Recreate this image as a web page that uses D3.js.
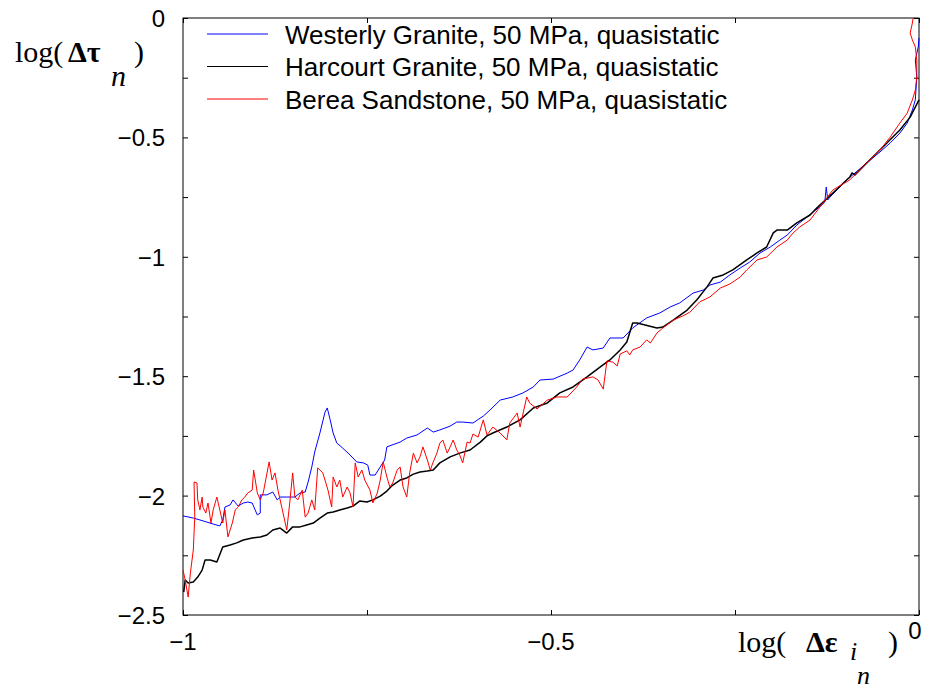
<!DOCTYPE html>
<html>
<head>
<meta charset="utf-8">
<script src="https://cdn.jsdelivr.net/npm/d3@7/dist/d3.min.js"></script>
<style>
  html, body { margin: 0; padding: 0; background: #fff; }
  svg { display: block; }
</style>
</head>
<body>
<div id="chart"></div>
<script>
// log(strain increment) vs log(stress increment)
const westerly = [
  [-1.000,-2.085],[-0.986,-2.094],[-0.977,-2.102],[-0.959,-2.119],[-0.950,-2.127],[-0.946,-2.102],[-0.943,-2.048],
  [-0.936,-2.039],[-0.932,-2.018],[-0.925,-2.044],[-0.918,-2.031],[-0.912,-2.027],[-0.906,-2.031],[-0.902,-2.060],
  [-0.899,-2.081],[-0.895,-2.073],[-0.895,-1.997],[-0.886,-1.997],[-0.878,-1.985],[-0.872,-2.018],[-0.868,-2.006],
  [-0.859,-2.006],[-0.848,-2.006],[-0.841,-1.989],[-0.834,-1.985],[-0.830,-1.943],[-0.825,-1.880],[-0.821,-1.817],
  [-0.814,-1.738],[-0.807,-1.650],[-0.804,-1.633],[-0.800,-1.683],[-0.796,-1.738],[-0.791,-1.780],[-0.783,-1.801],
  [-0.773,-1.830],[-0.764,-1.859],[-0.755,-1.863],[-0.749,-1.872],[-0.746,-1.914],[-0.739,-1.914],[-0.732,-1.880],
  [-0.726,-1.851],[-0.723,-1.796],[-0.716,-1.788],[-0.705,-1.776],[-0.696,-1.759],[-0.682,-1.746],[-0.668,-1.717],
  [-0.660,-1.734],[-0.651,-1.725],[-0.637,-1.709],[-0.628,-1.692],[-0.620,-1.692],[-0.606,-1.696],[-0.592,-1.667],
  [-0.583,-1.642],[-0.569,-1.600],[-0.552,-1.587],[-0.538,-1.570],[-0.524,-1.545],[-0.515,-1.516],[-0.497,-1.512],
  [-0.478,-1.487],[-0.470,-1.474],[-0.461,-1.432],[-0.451,-1.378],[-0.443,-1.390],[-0.429,-1.382],[-0.420,-1.340],
  [-0.402,-1.340],[-0.389,-1.298],[-0.370,-1.256],[-0.352,-1.235],[-0.338,-1.210],[-0.325,-1.193],[-0.307,-1.152],
  [-0.293,-1.139],[-0.284,-1.118],[-0.270,-1.106],[-0.257,-1.076],[-0.243,-1.047],[-0.230,-1.022],[-0.216,-0.984],
  [-0.202,-0.959],[-0.189,-0.930],[-0.179,-0.909],[-0.166,-0.867],[-0.152,-0.833],[-0.135,-0.791],[-0.128,-0.771],
  [-0.126,-0.708],[-0.124,-0.762],[-0.121,-0.750],[-0.098,-0.678],[-0.071,-0.607],[-0.053,-0.561],[-0.039,-0.523],
  [-0.026,-0.482],[-0.016,-0.440],[-0.009,-0.385],[-0.005,-0.343],[-0.003,-0.247],[-0.005,-0.176],[-0.001,-0.121],
  [0.000,-0.084]
]

const harcourt = [
  [-0.999,-2.404],[-0.997,-2.353],[-0.993,-2.366],[-0.986,-2.362],[-0.980,-2.341],[-0.974,-2.312],[-0.970,-2.270],
  [-0.963,-2.270],[-0.954,-2.278],[-0.946,-2.215],[-0.936,-2.207],[-0.927,-2.198],[-0.918,-2.186],[-0.906,-2.178],
  [-0.895,-2.173],[-0.886,-2.165],[-0.878,-2.144],[-0.868,-2.136],[-0.859,-2.157],[-0.851,-2.131],[-0.841,-2.131],
  [-0.832,-2.123],[-0.823,-2.115],[-0.814,-2.094],[-0.804,-2.073],[-0.796,-2.069],[-0.787,-2.060],[-0.777,-2.052],
  [-0.769,-2.044],[-0.760,-2.023],[-0.750,-2.027],[-0.742,-2.018],[-0.732,-2.002],[-0.723,-1.981],[-0.715,-1.956],
  [-0.705,-1.935],[-0.696,-1.926],[-0.687,-1.910],[-0.678,-1.901],[-0.668,-1.897],[-0.660,-1.893],[-0.651,-1.863],
  [-0.637,-1.838],[-0.624,-1.822],[-0.610,-1.809],[-0.596,-1.776],[-0.587,-1.750],[-0.579,-1.738],[-0.560,-1.713],
  [-0.542,-1.683],[-0.524,-1.633],[-0.505,-1.612],[-0.488,-1.570],[-0.470,-1.545],[-0.451,-1.503],[-0.433,-1.461],
  [-0.420,-1.432],[-0.406,-1.390],[-0.397,-1.357],[-0.389,-1.277],[-0.383,-1.277],[-0.356,-1.298],[-0.348,-1.294],
  [-0.334,-1.265],[-0.315,-1.223],[-0.302,-1.181],[-0.288,-1.126],[-0.280,-1.089],[-0.266,-1.076],[-0.253,-1.055],
  [-0.234,-1.013],[-0.220,-0.984],[-0.207,-0.959],[-0.198,-0.900],[-0.193,-0.888],[-0.179,-0.888],[-0.166,-0.858],
  [-0.148,-0.825],[-0.139,-0.796],[-0.117,-0.733],[-0.094,-0.666],[-0.091,-0.649],[-0.087,-0.657],[-0.071,-0.607],
  [-0.049,-0.540],[-0.026,-0.469],[-0.012,-0.415],[0.000,-0.343]
]

const berea = [
  [-1.000,-2.312],[-0.997,-2.353],[-0.993,-2.425],[-0.990,-2.324],[-0.986,-2.228],[-0.984,-2.090],[-0.985,-1.943],
  [-0.981,-1.947],[-0.980,-2.018],[-0.977,-2.060],[-0.974,-2.006],[-0.973,-2.048],[-0.969,-2.073],[-0.966,-2.031],
  [-0.962,-2.115],[-0.959,-2.060],[-0.954,-2.006],[-0.950,-2.060],[-0.946,-2.115],[-0.943,-2.060],[-0.939,-2.173],
  [-0.933,-2.115],[-0.929,-2.060],[-0.925,-2.048],[-0.920,-2.018],[-0.916,-2.006],[-0.912,-1.989],[-0.906,-1.977],
  [-0.904,-1.893],[-0.899,-1.989],[-0.895,-2.018],[-0.891,-1.989],[-0.883,-1.859],[-0.879,-1.935],[-0.875,-1.905],
  [-0.871,-1.977],[-0.865,-2.060],[-0.859,-2.144],[-0.855,-2.031],[-0.851,-1.905],[-0.848,-2.006],[-0.844,-2.018],
  [-0.838,-1.977],[-0.834,-2.090],[-0.830,-2.073],[-0.825,-2.018],[-0.821,-2.060],[-0.817,-1.884],[-0.810,-1.905],
  [-0.803,-1.977],[-0.798,-2.048],[-0.796,-1.922],[-0.791,-1.964],[-0.787,-1.935],[-0.783,-2.006],[-0.777,-1.964],
  [-0.773,-1.989],[-0.769,-2.048],[-0.766,-1.863],[-0.762,-1.922],[-0.757,-1.893],[-0.753,-1.935],[-0.746,-1.977],
  [-0.742,-2.031],[-0.736,-1.989],[-0.732,-1.935],[-0.728,-1.859],[-0.723,-1.922],[-0.719,-1.964],[-0.715,-1.947],
  [-0.709,-1.893],[-0.705,-1.880],[-0.701,-1.964],[-0.696,-2.006],[-0.692,-1.905],[-0.687,-1.822],[-0.682,-1.863],
  [-0.678,-1.838],[-0.674,-1.796],[-0.668,-1.851],[-0.664,-1.893],[-0.660,-1.859],[-0.655,-1.822],[-0.651,-1.780],
  [-0.647,-1.767],[-0.641,-1.822],[-0.637,-1.796],[-0.633,-1.767],[-0.628,-1.809],[-0.624,-1.830],[-0.620,-1.863],
  [-0.614,-1.776],[-0.610,-1.780],[-0.606,-1.742],[-0.599,-1.755],[-0.592,-1.683],[-0.587,-1.746],[-0.579,-1.713],
  [-0.569,-1.738],[-0.560,-1.767],[-0.556,-1.696],[-0.546,-1.654],[-0.542,-1.713],[-0.533,-1.587],[-0.529,-1.612],
  [-0.519,-1.637],[-0.505,-1.600],[-0.492,-1.587],[-0.478,-1.587],[-0.465,-1.545],[-0.457,-1.512],[-0.443,-1.503],
  [-0.436,-1.516],[-0.429,-1.554],[-0.424,-1.436],[-0.416,-1.441],[-0.410,-1.457],[-0.406,-1.407],[-0.397,-1.394],
  [-0.393,-1.411],[-0.389,-1.390],[-0.379,-1.378],[-0.370,-1.348],[-0.365,-1.361],[-0.356,-1.319],[-0.348,-1.298],
  [-0.334,-1.265],[-0.321,-1.248],[-0.311,-1.231],[-0.298,-1.189],[-0.284,-1.168],[-0.270,-1.131],[-0.257,-1.114],
  [-0.243,-1.085],[-0.234,-1.055],[-0.220,-1.013],[-0.207,-1.001],[-0.193,-0.959],[-0.179,-0.930],[-0.171,-0.900],
  [-0.162,-0.875],[-0.148,-0.846],[-0.117,-0.720],[-0.094,-0.678],[-0.071,-0.607],[-0.053,-0.553],[-0.039,-0.498],
  [-0.026,-0.440],[-0.016,-0.398],[-0.009,-0.343],[-0.005,-0.302],[-0.003,-0.247],[-0.003,-0.176],[-0.005,-0.121],
  [-0.009,-0.092],[-0.012,-0.063],[-0.009,-0.021],[-0.008,0.000]
]

const seriesNames = [
  "Westerly Granite, 50 MPa, quasistatic",
  "Harcourt Granite, 50 MPa, quasistatic",
  "Berea Sandstone, 50 MPa, quasistatic"
]
const seriesColors = ["#0000ff", "#000000", "#ff0000"]

const xTicks = [-1, -0.75, -0.5, -0.25, 0]
const yTicks = [0, -0.25, -0.5, -0.75, -1, -1.25, -1.5, -1.75, -2, -2.25, -2.5]
const xLabelVals = [-1, -0.5]
const yLabelVals = [0, -0.5, -1, -1.5, -2, -2.5]

const W = 931, H = 690
const M = { left: 183, right: 919, top: 18, bottom: 615 }
const SANS = "'Liberation Sans', Arial, Helvetica, sans-serif"
const SERIF = "'Liberation Serif', 'Times New Roman', serif"

const fmt = d => d3.format("~g")(d).replace("-", "\u2212")

const svg = d3.select("#chart").append("svg")
  .attr("width", W)
  .attr("height", H)

const x = d3.scaleLinear().domain([-1, 0]).range([M.left, M.right])
const y = d3.scaleLinear().domain([-2.5, 0]).range([M.bottom, M.top])

// frame + inward ticks on all four sides
const axisStyle = g => {
  g.select(".domain").remove()
  g.selectAll(".tick line").attr("stroke", "#000").attr("stroke-width", 1)
  g.selectAll(".tick text").remove()
}
svg.append("g").attr("transform", `translate(0,${M.bottom})`)
  .call(d3.axisBottom(x).tickValues(xTicks).tickSize(-5)).call(axisStyle)
svg.append("g").attr("transform", `translate(0,${M.top})`)
  .call(d3.axisTop(x).tickValues(xTicks).tickSize(-5)).call(axisStyle)
svg.append("g").attr("transform", `translate(${M.left},0)`)
  .call(d3.axisLeft(y).tickValues(yTicks).tickSize(-5)).call(axisStyle)
svg.append("g").attr("transform", `translate(${M.right},0)`)
  .call(d3.axisRight(y).tickValues(yTicks).tickSize(-5)).call(axisStyle)

svg.append("rect")
  .attr("x", M.left).attr("y", M.top)
  .attr("width", M.right - M.left).attr("height", M.bottom - M.top)
  .attr("fill", "none").attr("stroke", "#000").attr("stroke-width", 1)

// tick labels
svg.append("g").selectAll("text")
  .data(yLabelVals)
  .join("text")
  .attr("x", M.left - 18)
  .attr("y", d => y(d) + 9)
  .attr("text-anchor", "end")
  .attr("font-family", SANS)
  .attr("font-size", 24)
  .text(fmt)

svg.append("g").selectAll("text")
  .data(xLabelVals)
  .join("text")
  .attr("x", d => x(d))
  .attr("y", M.bottom + 35)
  .attr("text-anchor", "middle")
  .attr("font-family", SANS)
  .attr("font-size", 24)
  .text(fmt)

// the "0" on the x axis sits a bit higher, next to the axis title
svg.append("text")
  .attr("x", x(0) - 4)
  .attr("y", M.bottom + 24)
  .attr("text-anchor", "middle")
  .attr("font-family", SANS)
  .attr("font-size", 24)
  .text(fmt(0))

// curves
const line = d3.line().x(d => x(d[0])).y(d => y(d[1]))
const allSeries = [westerly, harcourt, berea]
svg.append("g")
  .selectAll("path")
  .data(allSeries)
  .join("path")
  .attr("d", line)
  .attr("fill", "none")
  .attr("stroke", (d, i) => seriesColors[i])
  .attr("stroke-width", (d, i) => i === 1 ? 1.5 : 1)
  .attr("stroke-linejoin", "round")

// legend
const legend = svg.append("g")
seriesNames.forEach((name, i) => {
  const ly = 34 + i * 32.5
  legend.append("line")
    .attr("x1", 207).attr("x2", 268)
    .attr("y1", ly).attr("y2", ly)
    .attr("stroke", seriesColors[i])
    .attr("stroke-width", 1)
  legend.append("text")
    .attr("x", 285).attr("y", ly + 9.5)
    .attr("font-family", SANS)
    .attr("font-size", 26)
    .text(name)
})

// axis titles
const yt = svg.append("text")
  .attr("font-family", SERIF)
  .attr("font-size", 30)
  .attr("fill", "#000")
yt.append("tspan").attr("x", 15).attr("y", 62).text("log(")
yt.append("tspan").attr("x", 68).attr("y", 62).attr("font-weight", "bold").text("\u0394\u03c4")
yt.append("tspan").attr("x", 111).attr("y", 86).attr("font-style", "italic").text("n")
yt.append("tspan").attr("x", 134).attr("y", 62).text(")")

const xt = svg.append("text")
  .attr("font-family", SERIF)
  .attr("font-size", 30)
  .attr("fill", "#000")
xt.append("tspan").attr("x", 738).attr("y", 652).text("log(")
xt.append("tspan").attr("x", 806).attr("y", 652).attr("font-weight", "bold").text("\u0394\u03b5")
xt.append("tspan").attr("x", 850).attr("y", 660).attr("font-style", "italic").attr("font-size", 26).text("i")
xt.append("tspan").attr("x", 857).attr("y", 684).attr("font-style", "italic").attr("font-size", 26).text("n")
xt.append("tspan").attr("x", 888).attr("y", 652).text(")")
</script>
</body>
</html>
